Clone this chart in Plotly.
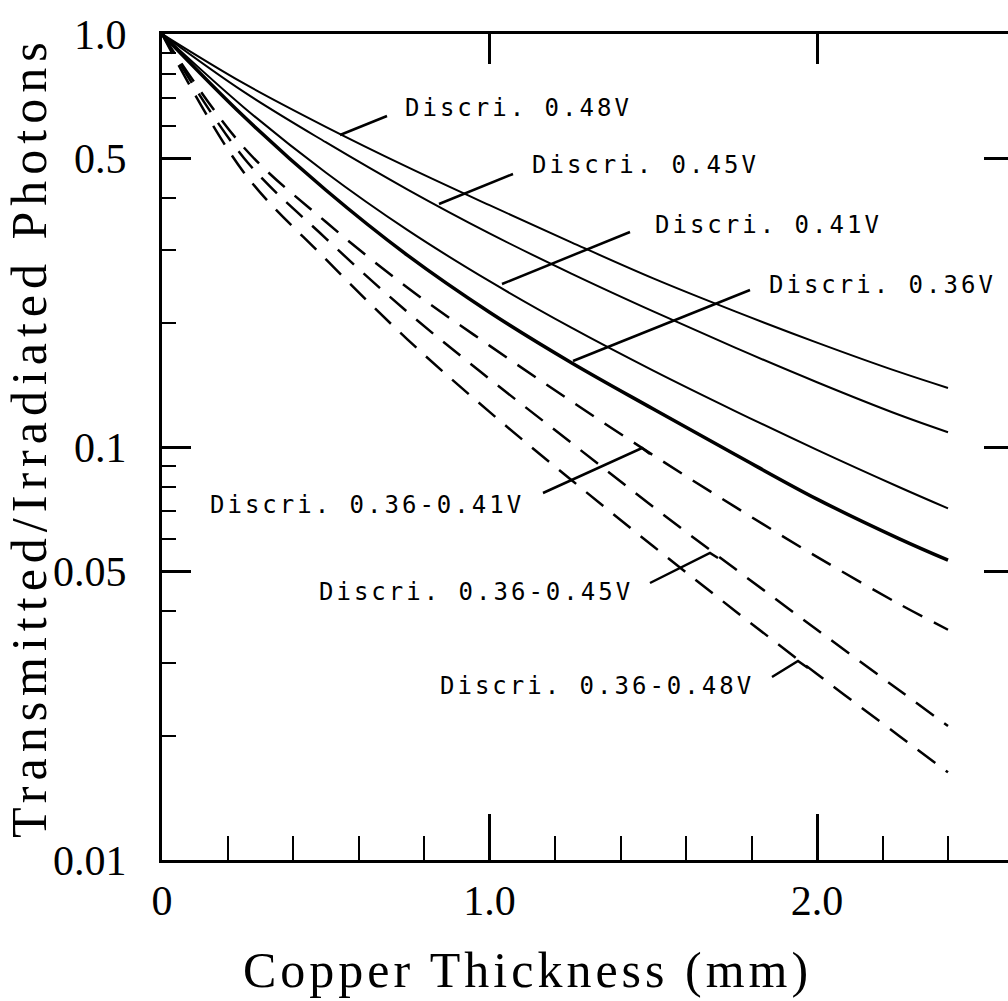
import plotly.graph_objects as go

# ---------------- data ----------------
thickness_mm = [0, 0.25, 0.5, 0.75, 1.0, 1.25, 1.5, 1.75, 2.0, 2.25, 2.4]

discri_048 = [1.0, 0.759, 0.596, 0.476, 0.385, 0.313, 0.256, 0.213, 0.179, 0.152, 0.139]
discri_045 = [1.0, 0.724, 0.547, 0.420, 0.329, 0.263, 0.213, 0.174, 0.1435, 0.1197, 0.1086]
discri_041 = [1.0, 0.664, 0.462, 0.335, 0.252, 0.1945, 0.1531, 0.1222, 0.0984, 0.0800, 0.0710]
discri_036 = [1.0, 0.631, 0.419, 0.291, 0.212, 0.160, 0.1236, 0.0959, 0.0748, 0.0600, 0.0532]
window_036_041 = [1.0, 0.531, 0.351, 0.243, 0.176, 0.129, 0.0955, 0.0716, 0.0542, 0.0417, 0.0361]
window_036_045 = [1.0, 0.501, 0.320, 0.212, 0.1462, 0.1023, 0.0716, 0.0507, 0.0361, 0.0258, 0.0211]
window_036_048 = [1.0, 0.462, 0.285, 0.182, 0.1216, 0.0832, 0.0575, 0.0401, 0.0282, 0.0200, 0.0163]

series_names = ["Discri. 0.48V", "Discri. 0.45V", "Discri. 0.41V", "Discri. 0.36V",
                "Discri. 0.36-0.41V", "Discri. 0.36-0.45V", "Discri. 0.36-0.48V"]
series_values = [discri_048, discri_045, discri_041, discri_036,
                 window_036_041, window_036_045, window_036_048]

y_tick_vals = [0.01, 0.05, 0.1, 0.5, 1.0]
y_tick_text = ["0.01", "0.05", "0.1", "0.5", "1.0"]
y_minor_vals = [0.02, 0.03, 0.04, 0.06, 0.07, 0.08, 0.09, 0.2, 0.3, 0.4, 0.6, 0.7, 0.8, 0.9]
x_tick_vals = [0, 1, 2]
x_tick_text = ["0", "1.0", "2.0"]
x_minor_vals = [0.2, 0.4, 0.6, 0.8, 1.2, 1.4, 1.6, 1.8, 2.2, 2.4]
top_tick_vals = [1, 2]
right_tick_vals = [0.05, 0.1, 0.5]

x_title = "Copper Thickness (mm)"
y_title = "Transmitted/Irradiated Photons"

# ---------------- layout geometry ----------------
W, H = 1008, 1001
L, T, B = 162, 34, 141
plot_w = W - L
plot_h = H - T - B
px_per_mm = 327.5
x_max = plot_w / px_per_mm


def xp(px):
    return (px - L) / plot_w


def yp(py):
    return (H - B - py) / plot_h


styles = [
    dict(width=2, dash="solid"),
    dict(width=2, dash="solid"),
    dict(width=2, dash="solid"),
    dict(width=3.5, dash="solid"),
    dict(width=2.5, dash="22px,13px"),
    dict(width=2.5, dash="22px,13px"),
    dict(width=2.5, dash="22px,13px"),
]

fig = go.Figure()
for name, vals, st in zip(series_names, series_values, styles):
    fig.add_trace(go.Scatter(
        x=thickness_mm, y=vals, name=name, mode="lines",
        line=dict(color="black", width=st["width"], dash=st["dash"], shape="spline", smoothing=1.0),
        showlegend=False, hoverinfo="skip",
    ))

# dummy trace for mirror axes (top / right ticks)
fig.add_trace(go.Scatter(x=[None], y=[None], xaxis="x2", yaxis="y2", showlegend=False, hoverinfo="skip"))

# ---------------- labels + leader lines ----------------
label_pos = [(403, 108), (530, 165), (653, 225), (767, 285), (208, 505), (317, 592), (438, 686)]
leaders = [
    [(340, 135), (387, 116)],
    [(439, 204), (513, 174)],
    [(502, 284), (630, 232)],
    [(573, 361), (750, 290)],
    [(543, 493), (642, 448), (650, 454)],
    [(650, 583), (710, 553), (718, 558)],
    [(772, 677), (798, 661), (808, 668)],
]

annotations = []
for name, (px, py) in zip(series_names, label_pos):
    annotations.append(dict(
        x=xp(px), y=yp(py), xref="paper", yref="paper",
        text='<span style="letter-spacing:3px">' + name + '</span>',
        showarrow=False, xanchor="left", yanchor="middle",
        font=dict(family="DejaVu Sans Mono", size=24, color="black"),
    ))

title_font = dict(family="Liberation Serif, serif", size=50, color="black")
annotations.append(dict(
    x=xp(527), y=yp(970), xref="paper", yref="paper",
    text='<span style="letter-spacing:4px">' + x_title + '</span>',
    showarrow=False, xanchor="center", yanchor="middle", font=title_font,
))
annotations.append(dict(
    x=xp(29), y=yp(437), xref="paper", yref="paper", textangle=-90,
    text='<span style="letter-spacing:6px">' + y_title + '</span>',
    showarrow=False, xanchor="center", yanchor="middle", font=title_font,
))

shapes = []
for pts in leaders:
    path = "M " + " L ".join(f"{xp(a):.5f},{yp(b):.5f}" for a, b in pts)
    shapes.append(dict(type="path", path=path, xref="paper", yref="paper",
                       line=dict(color="black", width=2.5)))

tick_font = dict(family="Liberation Serif, serif", size=42, color="black")

fig.update_layout(
    width=W, height=H,
    margin=dict(l=L, r=0, t=T, b=B, pad=0),
    paper_bgcolor="white", plot_bgcolor="white",
    annotations=annotations, shapes=shapes,
    xaxis=dict(
        range=[0, x_max], showgrid=False, zeroline=False,
        showline=True, linecolor="black", linewidth=3,
        ticks="inside", tickvals=x_tick_vals, ticktext=x_tick_text,
        ticklen=46, tickwidth=2.5, tickcolor="black",
        minor=dict(tickvals=x_minor_vals, ticks="inside", ticklen=24, tickwidth=2, tickcolor="black"),
        tickfont=tick_font, ticklabelstandoff=2,
        automargin=False,
    ),
    yaxis=dict(
        type="log", range=[-2, 0], showgrid=False, zeroline=False,
        showline=True, linecolor="black", linewidth=3,
        ticks="inside", tickvals=y_tick_vals, ticktext=y_tick_text,
        ticklen=29, tickwidth=2.5, tickcolor="black",
        minor=dict(tickvals=y_minor_vals, ticks="inside", ticklen=14, tickwidth=2, tickcolor="black"),
        tickfont=tick_font, ticklabelstandoff=24,
        automargin=False,
    ),
    xaxis2=dict(
        overlaying="x", side="top", range=[0, x_max], showgrid=False, zeroline=False,
        showline=True, linecolor="black", linewidth=3,
        ticks="inside", tickvals=top_tick_vals, ticklen=30, tickwidth=2.5, tickcolor="black",
        showticklabels=False, automargin=False,
    ),
    yaxis2=dict(
        overlaying="y", side="right", type="log", range=[-2, 0], showgrid=False, zeroline=False,
        showline=False, ticks="inside", tickvals=right_tick_vals, ticklen=24, tickwidth=2.5,
        tickcolor="black", showticklabels=False, automargin=False,
    ),
)

fig.write_html("out.html", config={"displayModeBar": False})
